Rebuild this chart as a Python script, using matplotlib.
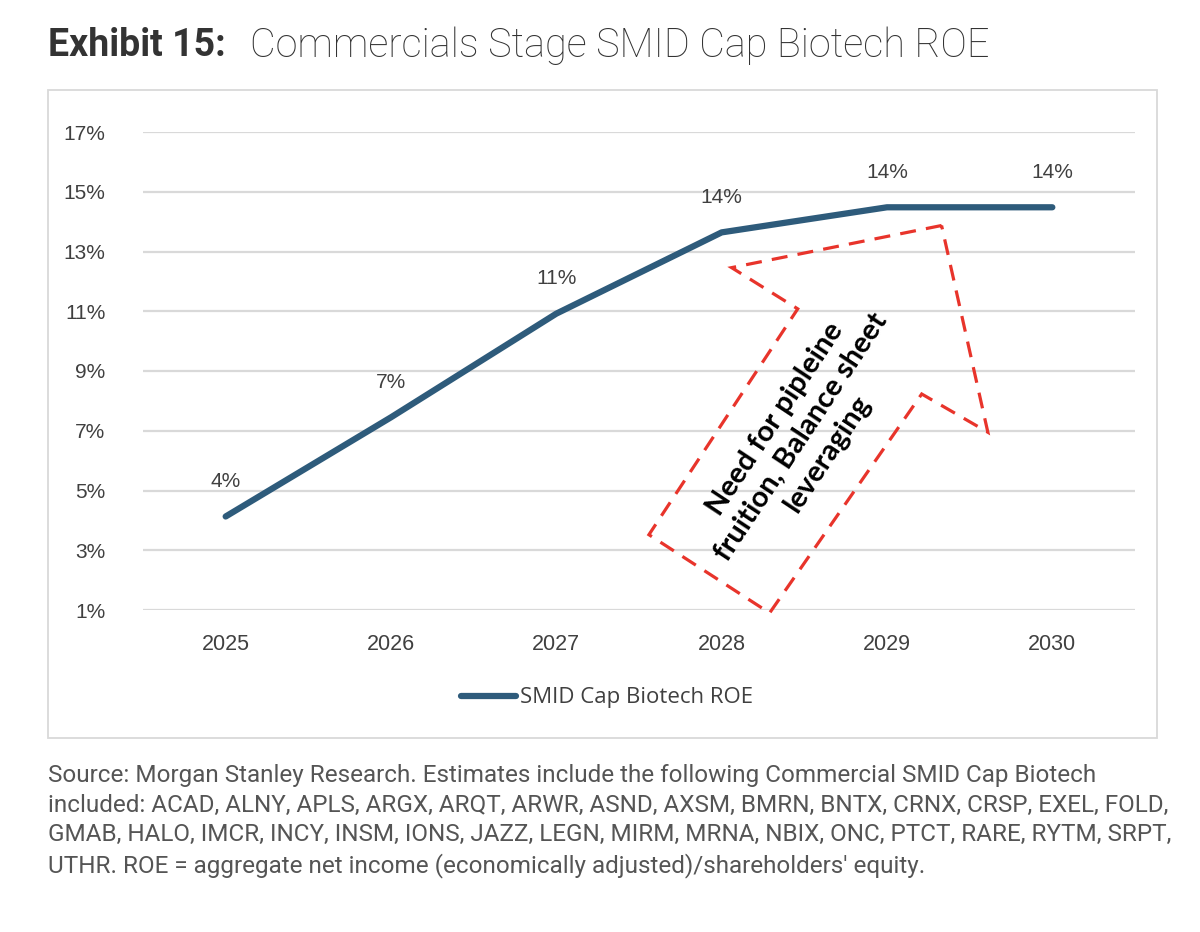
import matplotlib
matplotlib.use("Agg")
import matplotlib.pyplot as plt
from matplotlib.patches import Rectangle, Polygon

years = ["2025", "2026", "2027", "2028", "2029", "2030"]
roe = [4.13, 7.45, 10.92, 13.64, 14.48, 14.48]
labels = ["4%", "7%", "11%", "14%", "14%", "14%"]
yticks = [1, 3, 5, 7, 9, 11, 13, 15, 17]
ytick_labels = [f"{v}%" for v in yticks]
series_name = "SMID Cap Biotech ROE"

# annotation arrow outline (category index, ROE %)
arrow_x = [4.33, 3.06, 3.46, 2.56, 3.29, 4.21, 4.61]
arrow_y = [13.87, 12.46, 11.08, 3.52, 0.90, 8.23, 6.95]
arrow_text = "Need for pipleine\nfruition, Balance sheet\nleveraging"

title_bold = "Exhibit 15:"
title_rest = "Commercials Stage SMID Cap Biotech ROE"
footnote = ("Source: Morgan Stanley Research. Estimates include the following Commercial SMID Cap Biotech\n"
            "included: ACAD, ALNY, APLS, ARGX, ARQT, ARWR, ASND, AXSM, BMRN, BNTX, CRNX, CRSP, EXEL, FOLD,\n"
            "GMAB, HALO, IMCR, INCY, INSM, IONS, JAZZ, LEGN, MIRM, MRNA, NBIX, ONC, PTCT, RARE, RYTM, SRPT,\n"
            "UTHR. ROE = aggregate net income (economically adjusted)/shareholders' equity.")

W, H = 1200, 932
fig = plt.figure(figsize=(W / 100, H / 100), dpi=100)
fig.patch.set_facecolor("white")

line_color = "#2E5B7B"
grid_color = "#D9D9D9"
text_color = "#404040"

# chart frame
fig.add_artist(Rectangle((48 / W, 1 - 738 / H), (1157 - 48) / W, (738 - 90) / H,
                         transform=fig.transFigure, fill=False,
                         edgecolor=grid_color, linewidth=1.3))

ax = fig.add_axes([143 / W, 1 - 610 / H, (1135 - 143) / W, (610 - 132) / H])
x = list(range(len(years)))
ax.set_xlim(-0.5, len(years) - 0.5)
ax.set_ylim(1, 17)
for s in ax.spines.values():
    s.set_visible(False)
ax.set_yticks(yticks)
ax.set_yticklabels(ytick_labels, fontsize=15, color=text_color, family="Liberation Sans")
ax.set_xticks(x)
ax.set_xticklabels(years, fontsize=15.5, color=text_color, family="Liberation Sans")
ax.tick_params(axis="y", length=0, pad=27)
ax.tick_params(axis="x", length=0, pad=17)
ax.grid(axis="y", color=grid_color, linewidth=1.6)
ax.set_axisbelow(True)

ax.plot(x, roe, color=line_color, linewidth=4.5, solid_capstyle="round",
        solid_joinstyle="round", label=series_name, clip_on=False, zorder=3)
for xi, v, lab in zip(x, roe, labels):
    ax.annotate(lab, (xi, v), xytext=(0, 25), textcoords="offset points",
                ha="center", va="center", fontsize=15, color=text_color,
                family="Liberation Sans")

# dashed arrow callout
poly = Polygon(list(zip(arrow_x, arrow_y)), closed=True, fill=False,
               edgecolor="#E8342B", linewidth=2.3, linestyle=(0, (5, 3.2)),
               clip_on=False, zorder=4)
ax.add_patch(poly)
ax.text(3.48, 6.8, arrow_text, rotation=56.5, rotation_mode="anchor",
        ha="center", va="center", multialignment="center",
        fontsize=21, fontweight="bold", family="Lato", color="black",
        linespacing=1.25, zorder=5)

leg = ax.legend(loc="center", bbox_to_anchor=(607 / W, 1 - 698 / H),
                bbox_transform=fig.transFigure, frameon=False,
                prop={"family": "Open Sans", "size": 16},
                handlelength=2.5, handletextpad=0.2)
for t in leg.get_texts():
    t.set_color(text_color)

# title
fig.text(48 / W, 1 - 46 / H, title_bold, fontsize=27, fontweight="bold",
         family="Roboto", color="#333333", va="center", ha="left")
fig.text(250 / W, 1 - 46 / H, title_rest, fontsize=28.5, fontweight="light",
         family="Roboto", color="#333333", va="center", ha="left")

fig.text(48 / W, 1 - 764 / H, footnote, fontsize=17.5, family="Roboto",
         fontweight="normal", color="#555555", va="top", ha="left", linespacing=1.36)

fig.savefig("out.png", dpi=100, facecolor="white")
